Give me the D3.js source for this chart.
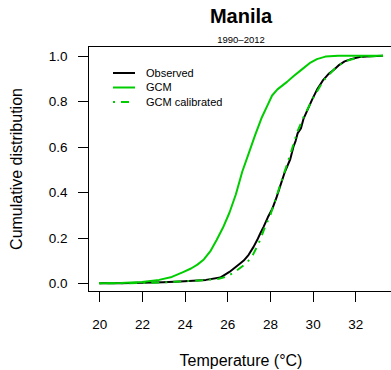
<!doctype html>
<html>
<head>
<meta charset="UTF-8" />
<title>Manila cumulative distribution</title>
<style type="text/css">
body {
	margin: 0;
	background: #fff;
	font-family: "Liberation Sans", Arial, Helvetica, sans-serif;
}

.line {
	fill: none;
	stroke-width: 2px;
	stroke-linejoin: round;
}

.tick line, .box {
	stroke: #000;
	fill: none;
	shape-rendering: crispEdges;
}
</style>
<script src="https://d3js.org/d3.v7.min.js"></script>
</head>
<body>
<div class="container"></div>
<script>
	// values (temperature in degC, cumulative share)
	var obsTemp = [20, 21, 22, 23, 24, 25, 25.67, 26.1, 26.6, 26.77, 27.0, 27.23, 27.4, 27.55, 27.7, 27.9, 28.1, 28.3, 28.49, 28.7, 28.95, 29.1, 29.2, 29.3, 29.45, 29.58, 29.75, 29.97, 30.2, 30.5, 30.75, 31.0, 31.25, 31.5, 31.8, 32.2, 32.7, 33.3];
	var obsCdf  = [0, 0, 0.002, 0.005, 0.009, 0.015, 0.025, 0.05, 0.087, 0.1, 0.125, 0.16, 0.19, 0.22, 0.248, 0.29, 0.325, 0.375, 0.43, 0.49, 0.545, 0.6, 0.625, 0.66, 0.68, 0.725, 0.76, 0.806, 0.85, 0.894, 0.92, 0.938, 0.96, 0.975, 0.985, 0.994, 0.998, 1.0];

	var gcmTemp = [20, 21, 22, 22.8, 23.4, 23.9, 24.3, 24.6, 24.9, 25.2, 25.5, 25.8, 26.1, 26.4, 26.7, 27.0, 27.3, 27.6, 27.9, 28.1, 28.35, 28.8, 29.1, 29.5, 29.9, 30.2, 30.6, 31.2, 33.3];
	var gcmCdf  = [0, 0.001, 0.006, 0.015, 0.028, 0.048, 0.065, 0.082, 0.105, 0.14, 0.19, 0.245, 0.31, 0.39, 0.49, 0.57, 0.65, 0.725, 0.785, 0.825, 0.852, 0.885, 0.91, 0.94, 0.97, 0.985, 0.996, 1.0, 1.0];

	var calTemp = [20, 22, 23, 24, 25, 25.6, 26.0, 26.45, 26.92, 27.2, 27.47, 27.78, 28.0, 28.3, 28.65, 29.0, 29.3, 29.6, 30.0, 30.5, 31.0, 31.5, 32.2, 33.3];
	var calCdf  = [0, 0.001, 0.004, 0.009, 0.014, 0.02, 0.03, 0.057, 0.09, 0.125, 0.175, 0.25, 0.295, 0.38, 0.48, 0.58, 0.67, 0.735, 0.81, 0.89, 0.94, 0.975, 0.994, 1.0];

	var xTicks = [20, 22, 24, 26, 28, 30, 32];
	var yTicks = [0, 0.2, 0.4, 0.6, 0.8, 1.0];
	var seriesNames = ["Observed", "GCM", "GCM calibrated"];

	var width = 391, height = 370;
	var box = {left: 88.5, top: 46.5, right: 394, bottom: 291.5};

	var x = d3.scaleLinear().domain([20, 32]).range([99.3, 355.3]);
	var y = d3.scaleLinear().domain([0, 1]).range([283.3, 55.7]);

	var svg = d3.select(".container").append("svg")
		.attr("width", width)
		.attr("height", height)
		.style("display", "block");

	svg.append("rect")
		.attr("class", "box")
		.attr("x", box.left)
		.attr("y", box.top)
		.attr("width", box.right - box.left)
		.attr("height", box.bottom - box.top);

	var xAxis = d3.axisBottom(x)
		.tickValues(xTicks)
		.tickSize(10)
		.tickPadding(18)
		.tickFormat(d3.format("d"));

	var yAxis = d3.axisLeft(y)
		.tickValues(yTicks)
		.tickSize(11)
		.tickPadding(10)
		.tickFormat(d3.format(".1f"));

	svg.append("g")
		.attr("class", "x axis")
		.attr("transform", "translate(0," + box.bottom + ")")
		.call(xAxis);

	svg.append("g")
		.attr("class", "y axis")
		.attr("transform", "translate(" + box.left + ",0)")
		.call(yAxis);

	svg.selectAll(".axis .domain").remove();
	svg.selectAll(".axis text")
		.style("font-family", "Liberation Sans, Arial, sans-serif")
		.style("font-size", "13.5px")
		.style("fill", "#000");

	var line = d3.line()
		.x(function(d) { return x(d[0]); })
		.y(function(d) { return y(d[1]); });

	function pairs(t, f) {
		return t.map(function(v, i) { return [v, f[i]]; });
	}

	svg.append("path")
		.datum(pairs(obsTemp, obsCdf))
		.attr("class", "line")
		.attr("stroke", "#000")
		.attr("d", line);

	svg.append("path")
		.datum(pairs(gcmTemp, gcmCdf))
		.attr("class", "line")
		.attr("stroke", "#00cd00")
		.attr("d", line);

	svg.append("path")
		.datum(pairs(calTemp, calCdf))
		.attr("class", "line")
		.attr("stroke", "#00cd00")
		.attr("stroke-dasharray", "2,6,8,6")
		.attr("d", line);

	// legend
	var legend = svg.append("g");
	var legendStyles = [
		{stroke: "#000", dash: null},
		{stroke: "#00cd00", dash: null},
		{stroke: "#00cd00", dash: "2,6,8,6"}
	];
	seriesNames.forEach(function(name, i) {
		var ly = 73 + i * 14.5;
		legend.append("line")
			.attr("x1", 113).attr("x2", 135)
			.attr("y1", ly).attr("y2", ly)
			.attr("stroke", legendStyles[i].stroke)
			.attr("stroke-width", 2)
			.attr("stroke-dasharray", legendStyles[i].dash);
		legend.append("text")
			.attr("x", 146)
			.attr("y", ly)
			.attr("dy", "0.35em")
			.style("font-size", "11px")
			.text(name);
	});

	svg.append("text")
		.attr("x", 241)
		.attr("y", 23)
		.style("text-anchor", "middle")
		.style("font-size", "20px")
		.style("font-weight", "bold")
		.text("Manila");

	svg.append("text")
		.attr("x", 241)
		.attr("y", 43)
		.style("text-anchor", "middle")
		.style("font-size", "9.5px")
		.text("1990\u20132012");

	svg.append("text")
		.attr("x", 241)
		.attr("y", 366)
		.style("text-anchor", "middle")
		.style("font-size", "16px")
		.text("Temperature (\u00B0C)");

	svg.append("text")
		.attr("transform", "translate(22," + 169 + ") rotate(-90)")
		.style("text-anchor", "middle")
		.style("font-size", "16px")
		.text("Cumulative distribution");
</script>
</body>
</html>
